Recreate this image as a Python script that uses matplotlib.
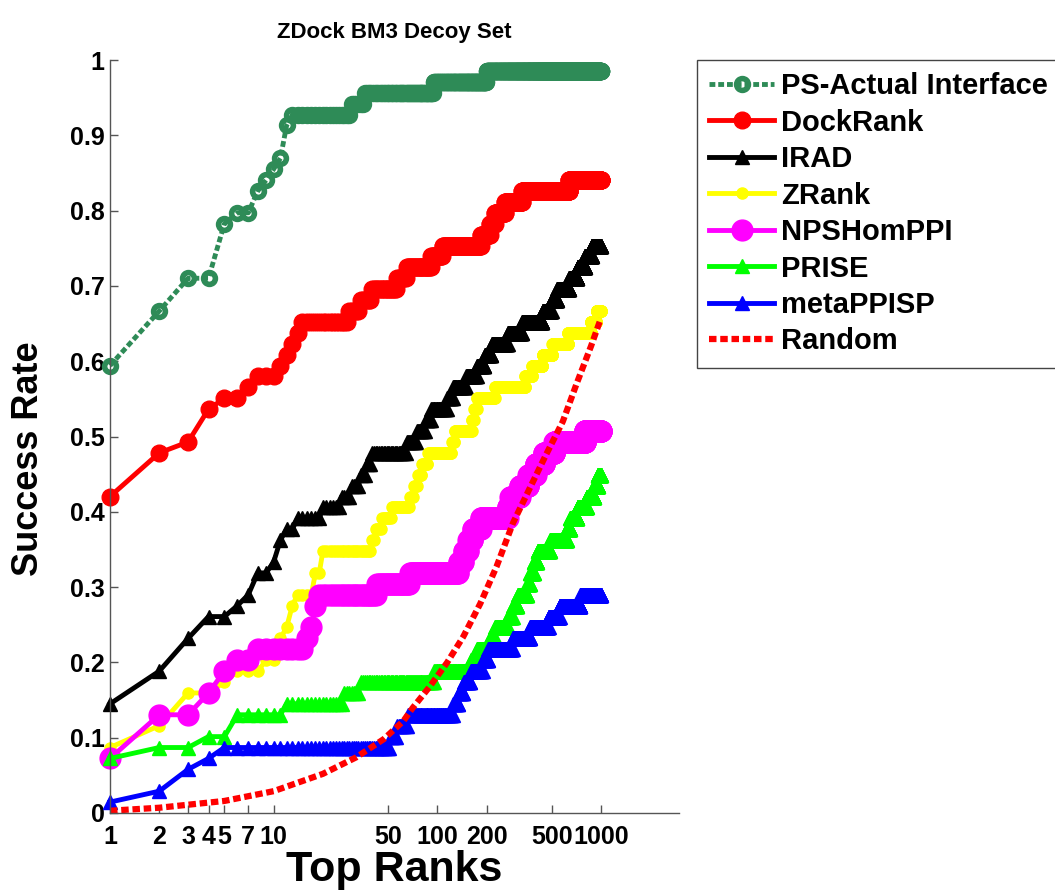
import numpy as np
import matplotlib
matplotlib.use("Agg")
import matplotlib.pyplot as plt

N_COMPLEX = 69
TOP_K = np.arange(1, 1001)

# rank at which the number of complexes with a hit rises to the given count
ps_rank = [1, 2, 3, 5, 6, 8, 9, 10, 11, 12, 13, 30, 36, 95, 200]
ps_hits = [41, 46, 49, 54, 55, 57, 58, 59, 60, 63, 64, 65, 66, 67, 68]

dock_rank = [1, 2, 3, 4, 5, 7, 8, 11, 12, 13, 14, 15, 29, 34, 40, 57, 65, 92,
             108, 185, 210, 225, 260, 330, 640]
dock_hits = [29, 33, 34, 37, 38, 39, 40, 41, 42, 43, 44, 45, 46, 47, 48, 49, 50,
             51, 52, 53, 54, 55, 56, 57, 58]

irad_rank = [1, 2, 3, 4, 6, 7, 8, 10, 11, 12, 14, 20, 26, 30, 34, 37, 40, 65, 75,
             85, 92, 115, 125, 150, 175, 195, 215, 270, 330, 440, 500, 540, 640,
             720, 800, 880]
irad_hits = [10, 13, 16, 18, 19, 20, 22, 23, 25, 26, 27, 28, 29, 30, 31, 32, 33,
             34, 35, 36, 37, 38, 39, 40, 41, 42, 43, 44, 45, 46, 47, 48, 49, 50,
             51, 52]

zrank_rank = [1, 2, 3, 5, 6, 9, 11, 12, 13, 14, 18, 20, 40, 42, 46, 53, 68, 72,
              76, 81, 88, 123, 128, 163, 168, 175, 225, 345, 380, 440, 505, 630,
              870, 940]
zrank_hits = [6, 8, 11, 12, 13, 14, 16, 17, 19, 20, 22, 24, 25, 26, 27, 28, 29,
              30, 31, 32, 33, 34, 35, 36, 37, 38, 39, 40, 41, 42, 43, 44, 45, 46]

nps_rank = [1, 2, 4, 5, 6, 8, 16, 17, 18, 19, 43, 68, 135, 145, 155, 165, 185,
            270, 280, 320, 360, 400, 450, 520, 800]
nps_hits = [5, 9, 11, 13, 14, 15, 16, 17, 19, 20, 21, 22, 23, 24, 25, 26, 27,
            28, 29, 30, 31, 32, 33, 34, 35]

prise_rank = [1, 2, 4, 6, 12, 27, 34, 96, 160, 175, 210, 225, 270, 290, 310,
              355, 370, 390, 410, 490, 620, 650, 720, 820, 910, 960]
prise_hits = [5, 6, 7, 9, 10, 11, 12, 13, 14, 15, 16, 17, 18, 19, 20, 21, 22,
              23, 24, 25, 26, 27, 28, 29, 30, 31]

meta_rank = [1, 2, 3, 4, 5, 52, 57, 66, 125, 135, 145, 160, 190, 205, 290, 370,
             480, 560, 750]
meta_hits = [1, 2, 4, 5, 6, 7, 8, 9, 10, 11, 12, 13, 14, 15, 16, 17, 18, 19, 20]

rand_rank = [1, 2, 5, 10, 20, 32, 47, 62, 71, 90, 115, 144, 183, 230, 290, 365,
             460, 585, 710, 870, 1000]
rand_rate = [0.003, 0.007, 0.016, 0.029, 0.052, 0.074, 0.098, 0.122, 0.14,
             0.168, 0.2, 0.234, 0.278, 0.327, 0.385, 0.43, 0.475, 0.52, 0.57,
             0.62, 0.657]

xtick_vals = [1, 2, 3, 4, 5, 7, 10, 50, 100, 200, 500, 1000]


def success_rate(ranks, hits):
    idx = np.searchsorted(ranks, TOP_K, side="right") - 1
    return np.asarray(hits)[idx] / N_COMPLEX


FONT = "Liberation Sans"
plt.rcParams["font.family"] = [FONT, "DejaVu Sans"]
plt.rcParams["font.weight"] = "bold"

fig = plt.figure(figsize=(10.55, 8.94), dpi=100)
ax = fig.add_axes([110 / 1055, 81 / 894, 569 / 1055, 753 / 894])

dots = (0, (1.2, 0.6))
series = [
    ("PS-Actual Interface", ps_rank, ps_hits,
     dict(color="#2E8B57", ls=dots, lw=3.5, marker="o", ms=8.5, mew=4, mfc="none")),
    ("DockRank", dock_rank, dock_hits,
     dict(color="#FF0000", ls="-", lw=3.5, marker="o", ms=12, mew=1, mfc="#FF0000")),
    ("IRAD", irad_rank, irad_hits,
     dict(color="black", ls="-", lw=3.5, marker="^", ms=10, mew=1, mfc="black")),
    ("ZRank", zrank_rank, zrank_hits,
     dict(color="#FFFF00", ls="-", lw=3.5, marker="o", ms=8, mew=1, mfc="#FFFF00")),
    ("NPSHomPPI", nps_rank, nps_hits,
     dict(color="#FF00FF", ls="-", lw=3.5, marker="o", ms=15, mew=1, mfc="#FF00FF")),
    ("PRISE", prise_rank, prise_hits,
     dict(color="#00FF00", ls="-", lw=3.5, marker="^", ms=10, mew=1, mfc="#00FF00")),
    ("metaPPISP", meta_rank, meta_hits,
     dict(color="#0000FF", ls="-", lw=3.5, marker="^", ms=10, mew=1, mfc="#0000FF")),
]

for name, ranks, hits, style in series:
    ax.plot(TOP_K, success_rate(ranks, hits), label=name, clip_on=False,
            dash_capstyle="butt", **style)
ax.plot(rand_rank, rand_rate, color="#FF0000", ls=dots, lw=4.5,
        dash_capstyle="butt", label="Random", clip_on=False)

ax.set_xscale("log")
ax.set_xlim(1, 3000)
ax.set_ylim(0, 1)
ax.set_xticks(xtick_vals)
ax.set_xticklabels([str(v) for v in xtick_vals])
ax.xaxis.set_minor_locator(matplotlib.ticker.NullLocator())
ax.set_yticks(np.arange(0, 1.01, 0.1))
ax.set_yticklabels(["0"] + [f"{v:.1f}" for v in np.arange(0.1, 0.95, 0.1)] + ["1"])

for side in ("top", "right"):
    ax.spines[side].set_visible(False)
for side in ("left", "bottom"):
    ax.spines[side].set_color("#555555")
    ax.spines[side].set_linewidth(1)
ax.tick_params(direction="in", length=5.5, width=1, color="#555555",
               labelsize=18)
ax.tick_params(axis="x", pad=9)
ax.tick_params(axis="y", pad=4)
for lab in ax.get_xticklabels() + ax.get_yticklabels():
    lab.set_fontweight("bold")

ax.set_title("ZDock BM3 Decoy Set", fontsize=16, fontweight="bold", pad=16)
ax.set_xlabel("Top Ranks", fontsize=31, fontweight="bold", labelpad=0)
ax.set_ylabel("Success Rate", fontsize=26, fontweight="bold")
ax.yaxis.set_label_coords(-0.112, 0.47)

leg = ax.legend(loc="upper left", bbox_to_anchor=(697 / 1055, 1 - 60 / 894),
                bbox_transform=fig.transFigure, borderaxespad=0, numpoints=1,
                fancybox=False, framealpha=1, edgecolor="#444444",
                prop=dict(family=FONT, weight="bold", size=21),
                handlelength=2.23, handletextpad=0.24, labelspacing=0.29,
                borderpad=0.42)
leg.get_frame().set_linewidth(1)

fig.savefig("out.png", dpi=100)
